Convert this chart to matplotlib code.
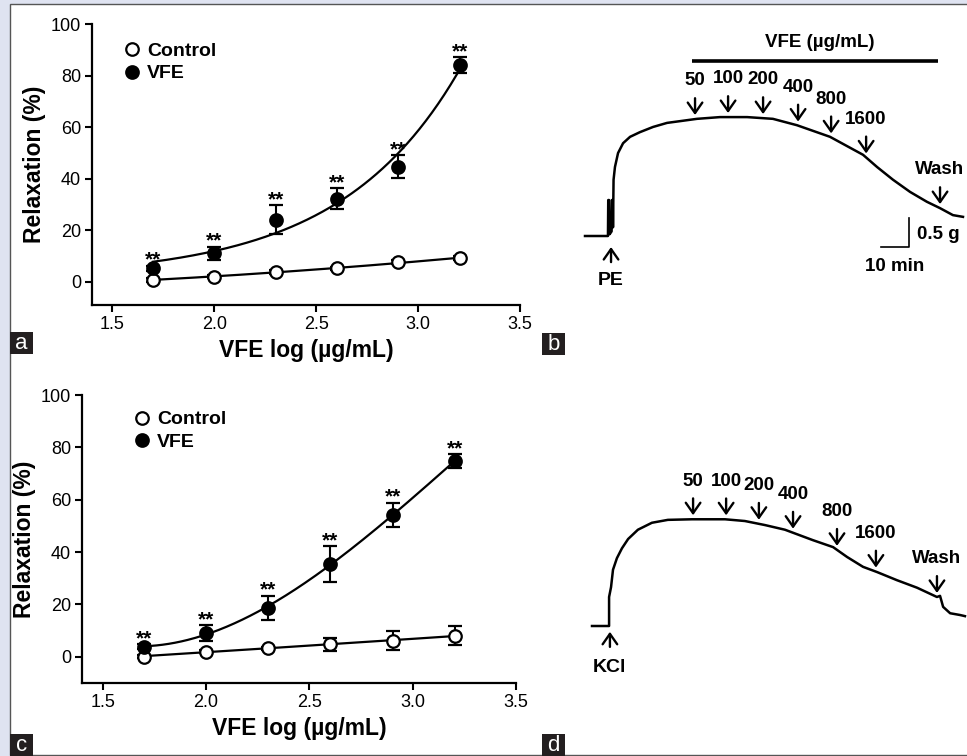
# %% Import

import matplotlib.pyplot as plt
import numpy as np
from matplotlib.lines import Line2D
from matplotlib.patches import Rectangle

plt.rcParams["font.family"] = ["Liberation Sans", "DejaVu Sans"]

W, H = 967, 756

# %% Data

conc = [50, 100, 200, 400, 800, 1600]  # µg/mL
dose_labels = ["50", "100", "200", "400", "800", "1600"]

# a: PE precontracted rings, relaxation (%) mean +/- SEM
a_ctrl_mean = [0.8, 2.0, 3.7, 5.2, 7.6, 9.2]
a_ctrl_sem = [0.7, 0.7, 0.7, 0.7, 0.7, 0.7]
a_vfe_mean = [5.3, 11.1, 24.0, 32.2, 44.7, 84.1]
a_vfe_sem = [1.0, 2.5, 5.6, 4.0, 4.3, 3.0]

# c: KCl precontracted rings
c_ctrl_mean = [0.1, 2.0, 3.3, 4.8, 6.1, 8.1]
c_ctrl_sem = [0.6, 0.6, 0.6, 2.5, 3.6, 3.7]
c_vfe_mean = [3.9, 9.0, 18.8, 35.4, 54.2, 74.8]
c_vfe_sem = [1.0, 3.0, 4.6, 6.9, 4.6, 2.5]

# b: tension trace after PE (time in min, tension in g)
b_time = [0, 8.2, 8.3, 8.6, 8.8, 9.5, 9.6, 9.9, 10.0, 10.2, 10.7, 11.8,
          13.6, 16.1, 19.6, 24.3, 29.3, 33.9, 40.0, 48.2, 57.9, 67.1,
          75.7, 87.5, 99.3, 104.3, 110.0, 116.1, 122.1, 126.8, 131.4, 135.0]
b_tension = [0, 0, 0.62, 0.62, 0.03, 0.08, 0.62, 0.62, 0.15, 0.97, 1.19, 1.43,
             1.60, 1.71, 1.79, 1.88, 1.95, 1.98, 2.02, 2.05, 2.05, 2.02,
             1.91, 1.71, 1.40, 1.19, 0.97, 0.76, 0.59, 0.48, 0.36, 0.33]
b_dose_time = [39.3, 51.1, 63.6, 76.1, 87.9, 100.4]
b_wash_time = 126.8
b_pe_time = 9.3

# d: tension trace after KCl
d_time = [0, 6.1, 6.1, 6.8, 7.5, 8.9, 10.7, 12.9, 16.4, 21.4, 27.1, 35.7,
          47.5, 54.6, 61.8, 68.9, 78.9, 86.1, 91.1, 96.8, 101.8, 108.9,
          116.1, 123.2, 124.3, 125.4, 127.9, 131.4, 133.2]
d_tension = [0, 0, 0.5, 0.67, 0.97, 1.17, 1.34, 1.50, 1.66, 1.78, 1.83, 1.84,
             1.84, 1.81, 1.74, 1.66, 1.48, 1.36, 1.19, 1.02, 0.93, 0.79,
             0.66, 0.50, 0.52, 0.33, 0.22, 0.19, 0.17]
d_dose_time = [36.1, 47.9, 59.6, 71.8, 87.5, 101.4]
d_wash_time = 123.2
d_kcl_time = 6.4

# %% Helpers

PX_PER_MIN = 2.8
PX_PER_G = 58.0


def px_axes(fig, x0, y0, x1, y1):
    return fig.add_axes([x0 / W, 1 - y1 / H, (x1 - x0) / W, (y1 - y0) / H])


def fit_exp(x, y):
    best = None
    for k in np.linspace(0.1, 6, 600):
        A = np.column_stack([np.exp(k * x), np.ones_like(x)])
        coef = np.linalg.lstsq(A, y, rcond=None)[0]
        err = np.sum((A @ coef - y) ** 2)
        if best is None or err < best[0]:
            best = (err, k, coef)
    _, k, (amp, off) = best
    return lambda xx: amp * np.exp(k * xx) + off


def fit_poly(deg):
    return lambda x, y: np.poly1d(np.polyfit(x, y, deg))


def dose_response(ax, ctrl, ctrl_err, vfe, vfe_err, vfe_fit, ylo, leg_xy):
    x = np.log10(conc)
    ctrl, ctrl_err = np.array(ctrl), np.array(ctrl_err)
    vfe, vfe_err = np.array(vfe), np.array(vfe_err)
    xs = np.linspace(x[0], x[-1], 200)

    ax.plot(xs, fit_poly(2)(x, ctrl)(xs), color="black", lw=1.6, zorder=2)
    ax.plot(xs, vfe_fit(x, vfe)(xs), color="black", lw=1.6, zorder=2)

    eb = dict(fmt="o", ms=9, mew=1.6, mec="black", ecolor="black",
              elinewidth=1.5, capsize=5, capthick=1.5, zorder=3)
    ax.errorbar(x, ctrl, yerr=ctrl_err, mfc="white", **eb)
    ax.errorbar(x, vfe, yerr=vfe_err, mfc="black", **eb)

    for xi, m, e in zip(x, vfe, vfe_err):
        ax.annotate("**", (xi, m + e), xytext=(0, 0), textcoords="offset points",
                    ha="center", va="baseline", fontsize=15, fontweight="bold")

    handles = [
        Line2D([], [], ls="none", marker="o", ms=9, mew=1.6, mec="black", mfc="white"),
        Line2D([], [], ls="none", marker="o", ms=9, mew=1.6, mec="black", mfc="black"),
    ]
    ax.legend(handles, ["Control", "VFE"], loc="upper left", bbox_to_anchor=leg_xy,
              frameon=False, handlelength=1.0, handletextpad=0.3, labelspacing=0.25,
              borderpad=0, borderaxespad=0, prop=dict(size=14, weight="bold"))

    ax.set_xlim(1.4, 3.5)
    ax.set_ylim(ylo, 100)
    ax.set_xticks([1.5, 2.0, 2.5, 3.0, 3.5])
    ax.set_yticks([0, 20, 40, 60, 80, 100])
    ax.spines[["top", "right"]].set_visible(False)
    ax.spines[["left", "bottom"]].set_linewidth(1.6)
    ax.tick_params(width=1.5, length=5, labelsize=13, pad=3)
    ax.set_xlabel("VFE log (µg/mL)", fontsize=16.5, fontweight="bold", labelpad=4)
    ax.set_ylabel("Relaxation (%)", fontsize=16.5, fontweight="bold", labelpad=3)
    ax.patch.set_visible(False)


def trace_panel(ax, box, origin, t, g, doses, wash_t, agent_t, agent, up):
    x0, y0, x1, y1 = box
    ox, oy = origin
    ax.set_xlim((x0 - ox) / PX_PER_MIN, (x1 - ox) / PX_PER_MIN)
    ax.set_ylim((oy - y1) / PX_PER_G, (oy - y0) / PX_PER_G)
    ax.axis("off")

    ax.plot(t, g, color="black", lw=1.8, solid_joinstyle="round")

    arrow = dict(arrowstyle="->,head_length=0.5,head_width=0.35", lw=1.7,
                 color="black", shrinkA=0, shrinkB=0, mutation_scale=15)
    for tt, lab in zip(list(doses) + [wash_t], dose_labels + ["Wash"]):
        yt = np.interp(tt, t, g)
        tip, tail = yt + 0.07, yt + 0.36
        ax.annotate("", xy=(tt, tip), xytext=(tt, tail), arrowprops=arrow)
        ax.text(tt, tail + 0.3, lab, ha="center", va="center",
                fontsize=13.5, fontweight="bold")

    tip, tail, lab_y = up
    ax.annotate("", xy=(agent_t, tip), xytext=(agent_t, tail), arrowprops=arrow)
    ax.text(agent_t, lab_y, agent, ha="center", va="center",
            fontsize=14, fontweight="bold")


# %% Figure

fig = plt.figure(figsize=(W / 100, H / 100), dpi=100)
fig.patch.set_facecolor("#dfe3f1")
fig.add_artist(Rectangle((10 / W, 1 - 755 / H), (W - 5) / W, (755 - 4) / H,
                         transform=fig.transFigure, facecolor="white",
                         edgecolor="#555555", lw=1.0, zorder=0))

ax_a = px_axes(fig, 92, 24, 520, 305)
dose_response(ax_a, a_ctrl_mean, a_ctrl_sem, a_vfe_mean, a_vfe_sem,
              fit_exp, -9, (0.07, 0.935))

ax_c = px_axes(fig, 82, 395, 516, 683)
dose_response(ax_c, c_ctrl_mean, c_ctrl_sem, c_vfe_mean, c_vfe_sem,
              fit_poly(3), -10, (0.115, 0.945))

box_b = (560, 20, 967, 330)
ax_b = px_axes(fig, *box_b)
trace_panel(ax_b, box_b, (585, 236), b_time, b_tension, b_dose_time,
            b_wash_time, b_pe_time, "PE", (-0.19, -0.45, -0.76))

# VFE bar and scale bar on b
ax_b.plot([38.2, 126.0], [3.02, 3.02], color="black", lw=2.6, solid_capstyle="butt")
ax_b.text(83.9, 3.33, "VFE (µg/mL)", ha="center", va="center",
          fontsize=13.5, fontweight="bold")
ax_b.plot([105.7, 115.7, 115.7], [-0.19, -0.19, 0.31], color="black", lw=1.2)
ax_b.text(118.6, 0.03, "0.5 g", ha="left", va="center", fontsize=13.5, fontweight="bold")
ax_b.text(110.7, -0.53, "10 min", ha="center", va="center", fontsize=13.5, fontweight="bold")

box_d = (560, 400, 967, 720)
ax_d = px_axes(fig, *box_d)
trace_panel(ax_d, box_d, (592, 626), d_time, d_tension, d_dose_time,
            d_wash_time, d_kcl_time, "KCl", (-0.10, -0.36, -0.71))

# panel letters
for letter, lx, ly in [("a", 10, 332), ("b", 542, 333), ("c", 10, 734), ("d", 542, 734)]:
    fig.add_artist(Rectangle((lx / W, 1 - (ly + 22) / H), 23 / W, 22 / H,
                             transform=fig.transFigure, facecolor="#231f20",
                             edgecolor="none", zorder=5))
    fig.text((lx + 11.5) / W, 1 - (ly + 11.5) / H, letter, color="white",
             ha="center", va="center", fontsize=16, zorder=6)

fig.savefig("out.png", dpi=100, facecolor=fig.get_facecolor())
